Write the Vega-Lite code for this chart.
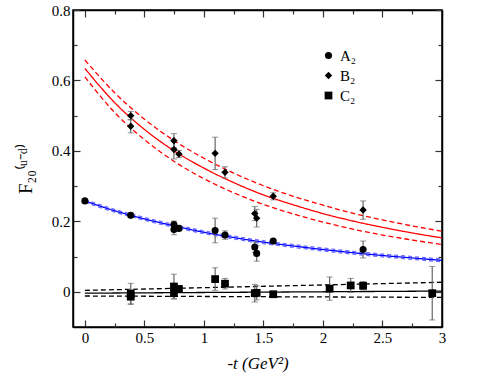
{
  "$schema": "https://vega.github.io/schema/vega-lite/v6.json",
  "width": 369,
  "height": 317,
  "autosize": "none",
  "padding": {"left": 73, "top": 10, "right": 49, "bottom": 52},
  "background": "white",
  "config": {
    "view": {"stroke": "black", "strokeWidth": 1.5},
    "font": "Liberation Serif",
    "axis": {"grid": false, "domainColor": "black", "domainWidth": 1.5, "tickColor": "#333", "tickWidth": 1.2, "labelColor": "black", "titleColor": "black", "labelFont": "Liberation Serif", "titleFont": "Liberation Serif"}
  },
  "datasets": {
    "curves": [
      {"curve": "B_mid", "t": 0, "F": 0.634}, {"curve": "B_mid", "t": 0.25, "F": 0.537}, {"curve": "B_mid", "t": 0.5, "F": 0.461}, {"curve": "B_mid", "t": 0.75, "F": 0.400}, {"curve": "B_mid", "t": 1.0, "F": 0.351}, {"curve": "B_mid", "t": 1.25, "F": 0.310}, {"curve": "B_mid", "t": 1.5, "F": 0.275}, {"curve": "B_mid", "t": 1.75, "F": 0.247}, {"curve": "B_mid", "t": 2.0, "F": 0.222}, {"curve": "B_mid", "t": 2.25, "F": 0.201}, {"curve": "B_mid", "t": 2.5, "F": 0.183}, {"curve": "B_mid", "t": 2.75, "F": 0.167}, {"curve": "B_mid", "t": 3.0, "F": 0.153},
      {"curve": "B_up", "t": 0, "F": 0.658}, {"curve": "B_up", "t": 0.25, "F": 0.565}, {"curve": "B_up", "t": 0.5, "F": 0.490}, {"curve": "B_up", "t": 0.75, "F": 0.429}, {"curve": "B_up", "t": 1.0, "F": 0.379}, {"curve": "B_up", "t": 1.25, "F": 0.337}, {"curve": "B_up", "t": 1.5, "F": 0.301}, {"curve": "B_up", "t": 1.75, "F": 0.271}, {"curve": "B_up", "t": 2.0, "F": 0.246}, {"curve": "B_up", "t": 2.25, "F": 0.223}, {"curve": "B_up", "t": 2.5, "F": 0.204}, {"curve": "B_up", "t": 2.75, "F": 0.187}, {"curve": "B_up", "t": 3.0, "F": 0.172},
      {"curve": "B_lo", "t": 0, "F": 0.610}, {"curve": "B_lo", "t": 0.25, "F": 0.509}, {"curve": "B_lo", "t": 0.5, "F": 0.432}, {"curve": "B_lo", "t": 0.75, "F": 0.370}, {"curve": "B_lo", "t": 1.0, "F": 0.321}, {"curve": "B_lo", "t": 1.25, "F": 0.281}, {"curve": "B_lo", "t": 1.5, "F": 0.248}, {"curve": "B_lo", "t": 1.75, "F": 0.221}, {"curve": "B_lo", "t": 2.0, "F": 0.198}, {"curve": "B_lo", "t": 2.25, "F": 0.178}, {"curve": "B_lo", "t": 2.5, "F": 0.161}, {"curve": "B_lo", "t": 2.75, "F": 0.147}, {"curve": "B_lo", "t": 3.0, "F": 0.134},
      {"curve": "A_up", "t": 0, "F": 0.262}, {"curve": "A_up", "t": 0.25, "F": 0.234}, {"curve": "A_up", "t": 0.5, "F": 0.211}, {"curve": "A_up", "t": 0.75, "F": 0.191}, {"curve": "A_up", "t": 1.0, "F": 0.173}, {"curve": "A_up", "t": 1.25, "F": 0.158}, {"curve": "A_up", "t": 1.5, "F": 0.145}, {"curve": "A_up", "t": 1.75, "F": 0.134}, {"curve": "A_up", "t": 2.0, "F": 0.124}, {"curve": "A_up", "t": 2.25, "F": 0.115}, {"curve": "A_up", "t": 2.5, "F": 0.107}, {"curve": "A_up", "t": 2.75, "F": 0.100}, {"curve": "A_up", "t": 3.0, "F": 0.093},
      {"curve": "A_lo", "t": 0, "F": 0.254}, {"curve": "A_lo", "t": 0.25, "F": 0.226}, {"curve": "A_lo", "t": 0.5, "F": 0.203}, {"curve": "A_lo", "t": 0.75, "F": 0.183}, {"curve": "A_lo", "t": 1.0, "F": 0.165}, {"curve": "A_lo", "t": 1.25, "F": 0.150}, {"curve": "A_lo", "t": 1.5, "F": 0.137}, {"curve": "A_lo", "t": 1.75, "F": 0.126}, {"curve": "A_lo", "t": 2.0, "F": 0.116}, {"curve": "A_lo", "t": 2.25, "F": 0.107}, {"curve": "A_lo", "t": 2.5, "F": 0.099}, {"curve": "A_lo", "t": 2.75, "F": 0.092}, {"curve": "A_lo", "t": 3.0, "F": 0.085},
      {"curve": "A_mid", "t": 0, "F": 0.258}, {"curve": "A_mid", "t": 0.25, "F": 0.230}, {"curve": "A_mid", "t": 0.5, "F": 0.207}, {"curve": "A_mid", "t": 0.75, "F": 0.187}, {"curve": "A_mid", "t": 1.0, "F": 0.169}, {"curve": "A_mid", "t": 1.25, "F": 0.154}, {"curve": "A_mid", "t": 1.5, "F": 0.141}, {"curve": "A_mid", "t": 1.75, "F": 0.130}, {"curve": "A_mid", "t": 2.0, "F": 0.120}, {"curve": "A_mid", "t": 2.25, "F": 0.111}, {"curve": "A_mid", "t": 2.5, "F": 0.103}, {"curve": "A_mid", "t": 2.75, "F": 0.096}, {"curve": "A_mid", "t": 3.0, "F": 0.089},
      {"curve": "C_mid", "t": 0, "F": -0.004}, {"curve": "C_mid", "t": 3.0, "F": 0.002},
      {"curve": "C_up", "t": 0, "F": 0.004}, {"curve": "C_up", "t": 3.0, "F": 0.027},
      {"curve": "C_lo", "t": 0, "F": -0.012}, {"curve": "C_lo", "t": 3.0, "F": -0.016}
    ],
    "pts": [
      {"s": "A₂", "t": 0.0, "F": 0.258, "e": 0.003},
      {"s": "A₂", "t": 0.385, "F": 0.217, "e": 0.006},
      {"s": "A₂", "t": 0.748, "F": 0.191, "e": 0.010},
      {"s": "A₂", "t": 0.748, "F": 0.177, "e": 0.015},
      {"s": "A₂", "t": 0.79, "F": 0.180, "e": 0.006},
      {"s": "A₂", "t": 1.094, "F": 0.174, "e": 0.035},
      {"s": "A₂", "t": 1.177, "F": 0.161, "e": 0.012},
      {"s": "A₂", "t": 1.427, "F": 0.127, "e": 0.015},
      {"s": "A₂", "t": 1.443, "F": 0.109, "e": 0.022},
      {"s": "A₂", "t": 1.582, "F": 0.144, "e": 0.005},
      {"s": "A₂", "t": 2.337, "F": 0.120, "e": 0.024},
      {"s": "B₂", "t": 0.385, "F": 0.500, "e": 0.012},
      {"s": "B₂", "t": 0.385, "F": 0.470, "e": 0.019},
      {"s": "B₂", "t": 0.748, "F": 0.429, "e": 0.020},
      {"s": "B₂", "t": 0.748, "F": 0.404, "e": 0.027},
      {"s": "B₂", "t": 0.79, "F": 0.391, "e": 0.010},
      {"s": "B₂", "t": 1.094, "F": 0.393, "e": 0.046},
      {"s": "B₂", "t": 1.177, "F": 0.339, "e": 0.016},
      {"s": "B₂", "t": 1.427, "F": 0.222, "e": 0.020},
      {"s": "B₂", "t": 1.443, "F": 0.209, "e": 0.025},
      {"s": "B₂", "t": 1.582, "F": 0.271, "e": 0.010},
      {"s": "B₂", "t": 2.337, "F": 0.232, "e": 0.026},
      {"s": "C₂", "t": 0.385, "F": -0.006, "e": 0.030},
      {"s": "C₂", "t": 0.385, "F": -0.014, "e": 0.020},
      {"s": "C₂", "t": 0.748, "F": 0.015, "e": 0.035},
      {"s": "C₂", "t": 0.748, "F": -0.004, "e": 0.016},
      {"s": "C₂", "t": 0.79, "F": 0.008, "e": 0.008},
      {"s": "C₂", "t": 1.094, "F": 0.036, "e": 0.032},
      {"s": "C₂", "t": 1.177, "F": 0.023, "e": 0.015},
      {"s": "C₂", "t": 1.427, "F": -0.004, "e": 0.025},
      {"s": "C₂", "t": 1.443, "F": -0.003, "e": 0.020},
      {"s": "C₂", "t": 1.582, "F": -0.007, "e": 0.006},
      {"s": "C₂", "t": 2.056, "F": 0.009, "e": 0.033},
      {"s": "C₂", "t": 2.233, "F": 0.018, "e": 0.020},
      {"s": "C₂", "t": 2.337, "F": 0.017, "e": 0.012},
      {"s": "C₂", "t": 2.918, "F": -0.004, "e": 0.076}
    ]
  },
  "layer": [
    {
      "data": {"name": "curves"},
      "mark": {"type": "line", "interpolate": "monotone", "clip": true},
      "encoding": {
        "x": {"field": "t", "type": "quantitative", "scale": {"domain": [-0.1, 3], "nice": false, "zero": false},
          "axis": {"orient": "bottom", "title": "-t (GeV²)", "titleFontStyle": "italic", "titleFontSize": 17, "titleFontWeight": "normal", "titlePadding": 10,
            "values": [0, 0.5, 1, 1.5, 2, 2.5, 3], "format": "~g",
            "labelFontSize": 15, "labelPadding": 10, "labelFlush": false, "tickSize": -7}},
        "y": {"field": "F", "type": "quantitative", "scale": {"domain": [-0.1, 0.8], "nice": false, "zero": false},
          "axis": {"orient": "left", "title": "F₂₀⁽ᵘ⁻ᵈ⁾", "titleFontSize": 19, "titleFontWeight": "normal", "titlePadding": 16,
            "values": [0, 0.2, 0.4, 0.6, 0.8], "format": "~g",
            "labelFontSize": 15, "labelPadding": 10, "labelFlush": false, "tickSize": -7}},
        "detail": {"field": "curve"},
        "color": {"field": "curve", "type": "nominal", "legend": null,
          "scale": {"domain": ["B_mid", "B_up", "B_lo", "A_up", "A_lo", "A_mid", "C_mid", "C_up", "C_lo"],
                    "range": ["#ff0000", "#ff0000", "#ff0000", "#7070ff", "#7070ff", "#0000ff", "#000000", "#000000", "#000000"]}},
        "strokeDash": {"field": "curve", "type": "nominal", "legend": null,
          "scale": {"domain": ["B_mid", "B_up", "B_lo", "A_up", "A_lo", "A_mid", "C_mid", "C_up", "C_lo"],
                    "range": [[1, 0], [5, 3], [5, 3], [4, 3], [4, 3], [1, 0], [1, 0], [5, 3], [5, 3]]}},
        "strokeWidth": {"field": "curve", "type": "nominal", "legend": null,
          "scale": {"domain": ["B_mid", "B_up", "B_lo", "A_up", "A_lo", "A_mid", "C_mid", "C_up", "C_lo"],
                    "range": [1.3, 1.3, 1.3, 2.2, 2.2, 2.2, 1.3, 1.3, 1.3]}}
      }
    },
    {
      "data": {"name": "pts"},
      "transform": [{"calculate": "datum.F - datum.e", "as": "lo"}, {"calculate": "datum.F + datum.e", "as": "hi"}],
      "mark": {"type": "errorbar", "ticks": {"size": 6, "color": "#666"}, "rule": {"color": "#666", "strokeWidth": 1.2}},
      "encoding": {
        "x": {"field": "t", "type": "quantitative",
          "axis": {"orient": "bottom", "title": null, "labels": false, "domain": false, "values": [0.25, 0.75, 1.25, 1.75, 2.25, 2.75], "tickSize": -4}},
        "y": {"field": "lo", "type": "quantitative",
          "axis": {"orient": "left", "title": null, "labels": false, "domain": false, "values": [0.1, 0.3, 0.5, 0.7], "tickSize": -4}},
        "y2": {"field": "hi"}
      }
    },
    {
      "data": {"name": "pts"},
      "mark": {"type": "point", "filled": true, "opacity": 1, "color": "black"},
      "encoding": {
        "x": {"field": "t", "type": "quantitative",
          "axis": {"orient": "top", "title": null, "labels": false, "values": [0, 0.25, 0.5, 0.75, 1, 1.25, 1.5, 1.75, 2, 2.25, 2.5, 2.75, 3],
            "tickSize": {"condition": {"test": "round(datum.value*4) % 2 === 0", "value": -7}, "value": -4}}},
        "y": {"field": "F", "type": "quantitative",
          "axis": {"orient": "right", "title": null, "labels": false, "values": [0, 0.1, 0.2, 0.3, 0.4, 0.5, 0.6, 0.7, 0.8],
            "tickSize": {"condition": {"test": "round(datum.value*10) % 2 === 0", "value": -7}, "value": -4}}},
        "shape": {"field": "s", "type": "nominal",
          "scale": {"domain": ["A₂", "B₂", "C₂"], "range": ["circle", "diamond", "square"]},
          "legend": {"orient": "none", "legendX": 248, "legendY": 38, "title": null, "labelFontSize": 15, "labelFont": "Liberation Serif",
            "symbolFillColor": "black", "symbolStrokeColor": "black", "rowPadding": 4, "labelOffset": 4}},
        "size": {"field": "s", "type": "nominal",
          "scale": {"domain": ["A₂", "B₂", "C₂"], "range": [50, 60, 36]}}
      }
    }
  ],
  "resolve": {"axis": {"x": "independent", "y": "independent"}}
}
